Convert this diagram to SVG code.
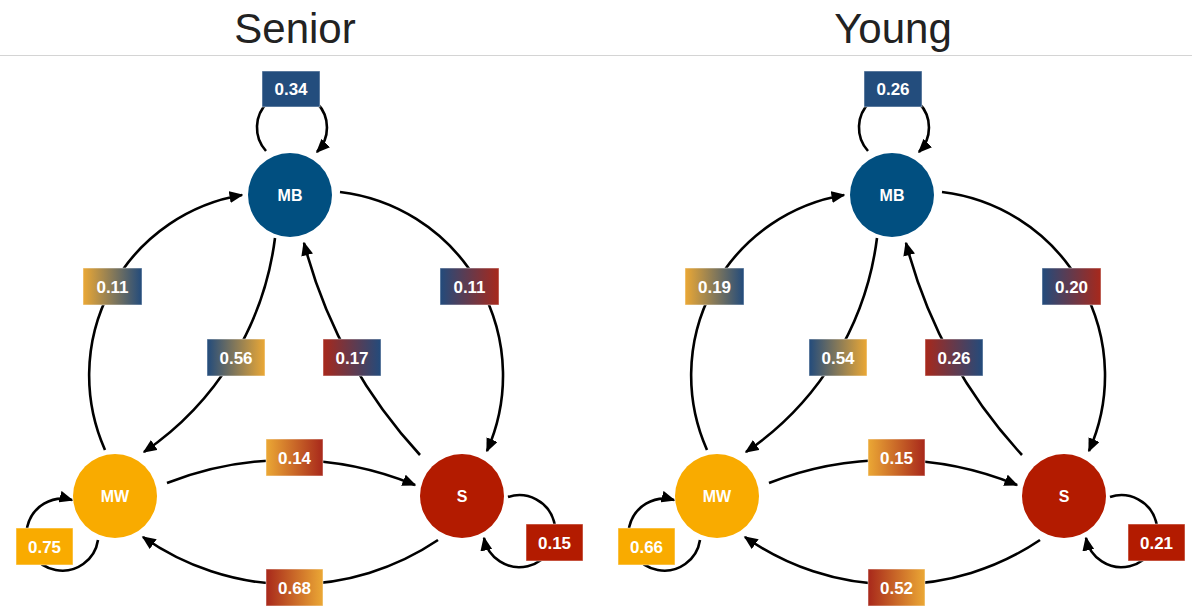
<svg xmlns="http://www.w3.org/2000/svg" width="1192" height="608" viewBox="0 0 1192 608">
<style>
.title{font-family:"Liberation Sans",Arial,sans-serif;font-size:42px;fill:#222;text-anchor:middle}
.edge{fill:none;stroke:#000;stroke-width:2.6;marker-end:url(#arr)}
.nlbl{font-family:"Liberation Sans",Arial,sans-serif;font-weight:bold;font-size:16px;fill:#fff;text-anchor:middle}
.blbl{font-family:"Liberation Sans",Arial,sans-serif;font-weight:bold;font-size:17px;fill:#fff;text-anchor:middle}
.box{stroke:#fff;stroke-opacity:0.5;stroke-width:1}
.mb{fill:#014f80}.mw{fill:#f9ab00}.s{fill:#b31b00}
</style>
<defs>
<marker id="arr" viewBox="0 0 14 12" refX="12.5" refY="6" markerWidth="14" markerHeight="12" markerUnits="userSpaceOnUse" orient="auto">
<path d="M0,0 L14,6 L0,12 z" fill="#000"/>
</marker>
<linearGradient id="gOB" x1="0" x2="1" y1="0" y2="0"><stop offset="0" stop-color="#eba835"/><stop offset="1" stop-color="#224b7c"/></linearGradient>
<linearGradient id="gBO" x1="0" x2="1" y1="0" y2="0"><stop offset="0" stop-color="#224b7c"/><stop offset="1" stop-color="#eba835"/></linearGradient>
<linearGradient id="gBR" x1="0" x2="1" y1="0" y2="0"><stop offset="0" stop-color="#224b7c"/><stop offset="1" stop-color="#a8281b"/></linearGradient>
<linearGradient id="gRB" x1="0" x2="1" y1="0" y2="0"><stop offset="0" stop-color="#a8281b"/><stop offset="1" stop-color="#224b7c"/></linearGradient>
<linearGradient id="gOR" x1="0" x2="1" y1="0" y2="0"><stop offset="0" stop-color="#eba835"/><stop offset="1" stop-color="#a8281b"/></linearGradient>
<linearGradient id="gRO" x1="0" x2="1" y1="0" y2="0"><stop offset="0" stop-color="#a8281b"/><stop offset="1" stop-color="#eba835"/></linearGradient>
</defs>
<rect width="1192" height="608" fill="#fff"/>
<text class="title" x="295" y="43">Senior</text>
<text class="title" x="893" y="43">Young</text>
<line x1="0" y1="55.5" x2="1192" y2="55.5" stroke="#d4d4d4" stroke-width="1"/>

<!-- Senior panel -->
<g id="senior">
<g id="senior-connectors">
<path class="edge" d="M266,151 A35 35 0 1 1 317,152"/>
<path class="edge" d="M105,450 A183 183 0 0 1 242,195"/>
<path class="edge" d="M340,192 A185 185 0 0 1 487,451"/>
<path class="edge" d="M275,238 A305 305 0 0 1 144,452"/>
<path class="edge" d="M420,455 A500 500 0 0 1 304,243"/>
<path class="edge" d="M167,483 A332 332 0 0 1 415,485"/>
<path class="edge" d="M438,540 A260 260 0 0 1 143,537"/>
<path class="edge" d="M98,540 A36 36 0 1 1 72,500"/>
<path class="edge" d="M508,497 A36 36 0 1 1 484,538"/>
</g>
<g id="senior-MB"><circle class="mb" cx="290" cy="195" r="42"/><text class="nlbl" x="290" y="201">MB</text></g>
<g id="senior-MW"><circle class="mw" cx="115" cy="496" r="42"/><text class="nlbl" x="115" y="502">MW</text></g>
<g id="senior-S"><circle class="s" cx="462" cy="496" r="42"/><text class="nlbl" x="462" y="502">S</text></g>
<g id="senior-labels">
<rect class="box" x="262" y="71" width="58" height="36" fill="#234d7d"/><text class="blbl" x="291" y="95">0.34</text>
<rect class="box" x="83" y="268" width="59" height="37" fill="url(#gOB)"/><text class="blbl" x="112.5" y="292.5">0.11</text>
<rect class="box" x="440" y="268" width="59" height="37" fill="url(#gBR)"/><text class="blbl" x="469.5" y="292.5">0.11</text>
<rect class="box" x="207" y="339" width="58" height="37" fill="url(#gBO)"/><text class="blbl" x="236" y="363.5">0.56</text>
<rect class="box" x="323" y="339" width="58" height="37" fill="url(#gRB)"/><text class="blbl" x="352" y="363.5">0.17</text>
<rect class="box" x="266" y="439" width="57" height="37" fill="url(#gOR)"/><text class="blbl" x="294.5" y="463.5">0.14</text>
<rect class="box" x="266" y="569" width="57" height="37" fill="url(#gRO)"/><text class="blbl" x="294.5" y="593.5">0.68</text>
<rect class="box" x="16" y="528" width="57" height="37" fill="#f9ab00"/><text class="blbl" x="44.5" y="552.5">0.75</text>
<rect class="box" x="526" y="524" width="57" height="37" fill="#b31b00"/><text class="blbl" x="554.5" y="548.5">0.15</text>
</g>
</g>

<!-- Young panel -->
<g id="young" transform="translate(602,0)">
<g id="young-connectors">
<path class="edge" d="M266,151 A35 35 0 1 1 317,152"/>
<path class="edge" d="M105,450 A183 183 0 0 1 242,195"/>
<path class="edge" d="M340,192 A185 185 0 0 1 487,451"/>
<path class="edge" d="M275,238 A305 305 0 0 1 144,452"/>
<path class="edge" d="M420,455 A500 500 0 0 1 304,243"/>
<path class="edge" d="M167,483 A332 332 0 0 1 415,485"/>
<path class="edge" d="M438,540 A260 260 0 0 1 143,537"/>
<path class="edge" d="M98,540 A36 36 0 1 1 72,500"/>
<path class="edge" d="M508,497 A36 36 0 1 1 484,538"/>
</g>
<g id="young-MB"><circle class="mb" cx="290" cy="195" r="42"/><text class="nlbl" x="290" y="201">MB</text></g>
<g id="young-MW"><circle class="mw" cx="115" cy="496" r="42"/><text class="nlbl" x="115" y="502">MW</text></g>
<g id="young-S"><circle class="s" cx="462" cy="496" r="42"/><text class="nlbl" x="462" y="502">S</text></g>
<g id="young-labels">
<rect class="box" x="262" y="71" width="58" height="36" fill="#234d7d"/><text class="blbl" x="291" y="95">0.26</text>
<rect class="box" x="83" y="268" width="59" height="37" fill="url(#gOB)"/><text class="blbl" x="112.5" y="292.5">0.19</text>
<rect class="box" x="440" y="268" width="59" height="37" fill="url(#gBR)"/><text class="blbl" x="469.5" y="292.5">0.20</text>
<rect class="box" x="207" y="339" width="58" height="37" fill="url(#gBO)"/><text class="blbl" x="236" y="363.5">0.54</text>
<rect class="box" x="323" y="339" width="58" height="37" fill="url(#gRB)"/><text class="blbl" x="352" y="363.5">0.26</text>
<rect class="box" x="266" y="439" width="57" height="37" fill="url(#gOR)"/><text class="blbl" x="294.5" y="463.5">0.15</text>
<rect class="box" x="266" y="569" width="57" height="37" fill="url(#gRO)"/><text class="blbl" x="294.5" y="593.5">0.52</text>
<rect class="box" x="16" y="528" width="57" height="37" fill="#f9ab00"/><text class="blbl" x="44.5" y="552.5">0.66</text>
<rect class="box" x="526" y="524" width="57" height="37" fill="#b31b00"/><text class="blbl" x="554.5" y="548.5">0.21</text>
</g>
</g>
</svg>
